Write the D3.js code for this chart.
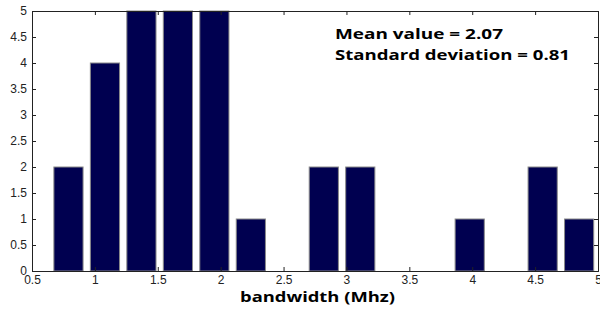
<!DOCTYPE html>
<html>
<head>
<meta charset="utf-8">
<script src="https://cdn.jsdelivr.net/npm/d3@7"></script>
<style>
  body { margin: 0; background: #fff; }
  svg { display: block; }
</style>
</head>
<body>
<svg id="chart" width="600" height="311"></svg>
<script>
// histogram bin centres (MHz) and counts
var binCenters = [0.79, 1.08, 1.37, 1.66, 1.95, 2.24, 2.53, 2.82, 3.11, 3.40, 3.69, 3.98, 4.27, 4.56, 4.85];
var counts = [2, 4, 5, 5, 5, 1, 0, 2, 2, 0, 0, 1, 0, 2, 1];
var xTicks = [0.5, 1, 1.5, 2, 2.5, 3, 3.5, 4, 4.5, 5];
var yTicks = [0, 0.5, 1, 1.5, 2, 2.5, 3, 3.5, 4, 4.5, 5];
var statLines = ['Mean value = 2.07', 'Standard deviation = 0.81'];

var svg = d3.select('#chart');
var plotL = 32, plotR = 598, plotT = 11, plotB = 271;

var x = d3.scaleLinear().domain([0.5, 5]).range([plotL, plotR]);
var y = d3.scaleLinear().domain([0, 5]).range([plotB, plotT]);
var binW = (binCenters[1] - binCenters[0]) * 0.8;

svg.append('g').selectAll('rect')
  .data(binCenters.map(function (c, i) { return { c: c, n: counts[i] }; }).filter(function (d) { return d.n > 0; }))
  .enter().append('rect')
  .attr('x', function (d) { return x(d.c - binW / 2); })
  .attr('width', function (d) { return x(d.c + binW / 2) - x(d.c - binW / 2); })
  .attr('y', function (d) { return y(d.n); })
  .attr('height', function (d) { return y(0) - y(d.n); })
  .attr('fill', '#000050')
  .attr('stroke', '#8a8a8a')
  .attr('stroke-width', 1);

// axes, matlab style: ticks pointing inward, box all round
var fmt = function (d) { return d3.format('~g')(d); };
var axB = svg.append('g').attr('transform', 'translate(0,' + plotB + ')')
  .call(d3.axisBottom(x).tickValues(xTicks).tickSize(-4).tickPadding(4).tickFormat(fmt));
var axT = svg.append('g').attr('transform', 'translate(0,' + plotT + ')')
  .call(d3.axisTop(x).tickValues(xTicks).tickSize(-4).tickFormat(''));
var axL = svg.append('g').attr('transform', 'translate(' + plotL + ',0)')
  .call(d3.axisLeft(y).tickValues(yTicks).tickSize(-4).tickPadding(5).tickFormat(fmt));
var axR = svg.append('g').attr('transform', 'translate(' + plotR + ',0)')
  .call(d3.axisRight(y).tickValues(yTicks).tickSize(-4).tickFormat(''));

[axB, axT, axL, axR].forEach(function (a) {
  a.selectAll('.domain').attr('stroke', '#222').attr('stroke-width', 1);
  a.selectAll('.tick line').attr('stroke', '#222');
  a.selectAll('text').attr('font-family', 'Liberation Sans, Arial, sans-serif')
    .attr('font-size', 12).attr('fill', '#222');
});

svg.append('text')
  .attr('x', 240).attr('y', 302)
  .attr('textLength', 155).attr('lengthAdjust', 'spacingAndGlyphs')
  .attr('font-family', 'Open Sans, sans-serif')
  .attr('font-weight', 'bold').attr('font-size', 15)
  .text('bandwidth (Mhz)');

var statW = [168, 235];
svg.append('g').selectAll('text')
  .data(statLines).enter().append('text')
  .attr('x', 335)
  .attr('y', function (d, i) { return 39 + i * 21; })
  .attr('textLength', function (d, i) { return statW[i]; })
  .attr('lengthAdjust', 'spacingAndGlyphs')
  .attr('font-family', 'Open Sans, sans-serif')
  .attr('font-weight', 'bold').attr('font-size', 15)
  .text(function (d) { return d; });
</script>
</body>
</html>
